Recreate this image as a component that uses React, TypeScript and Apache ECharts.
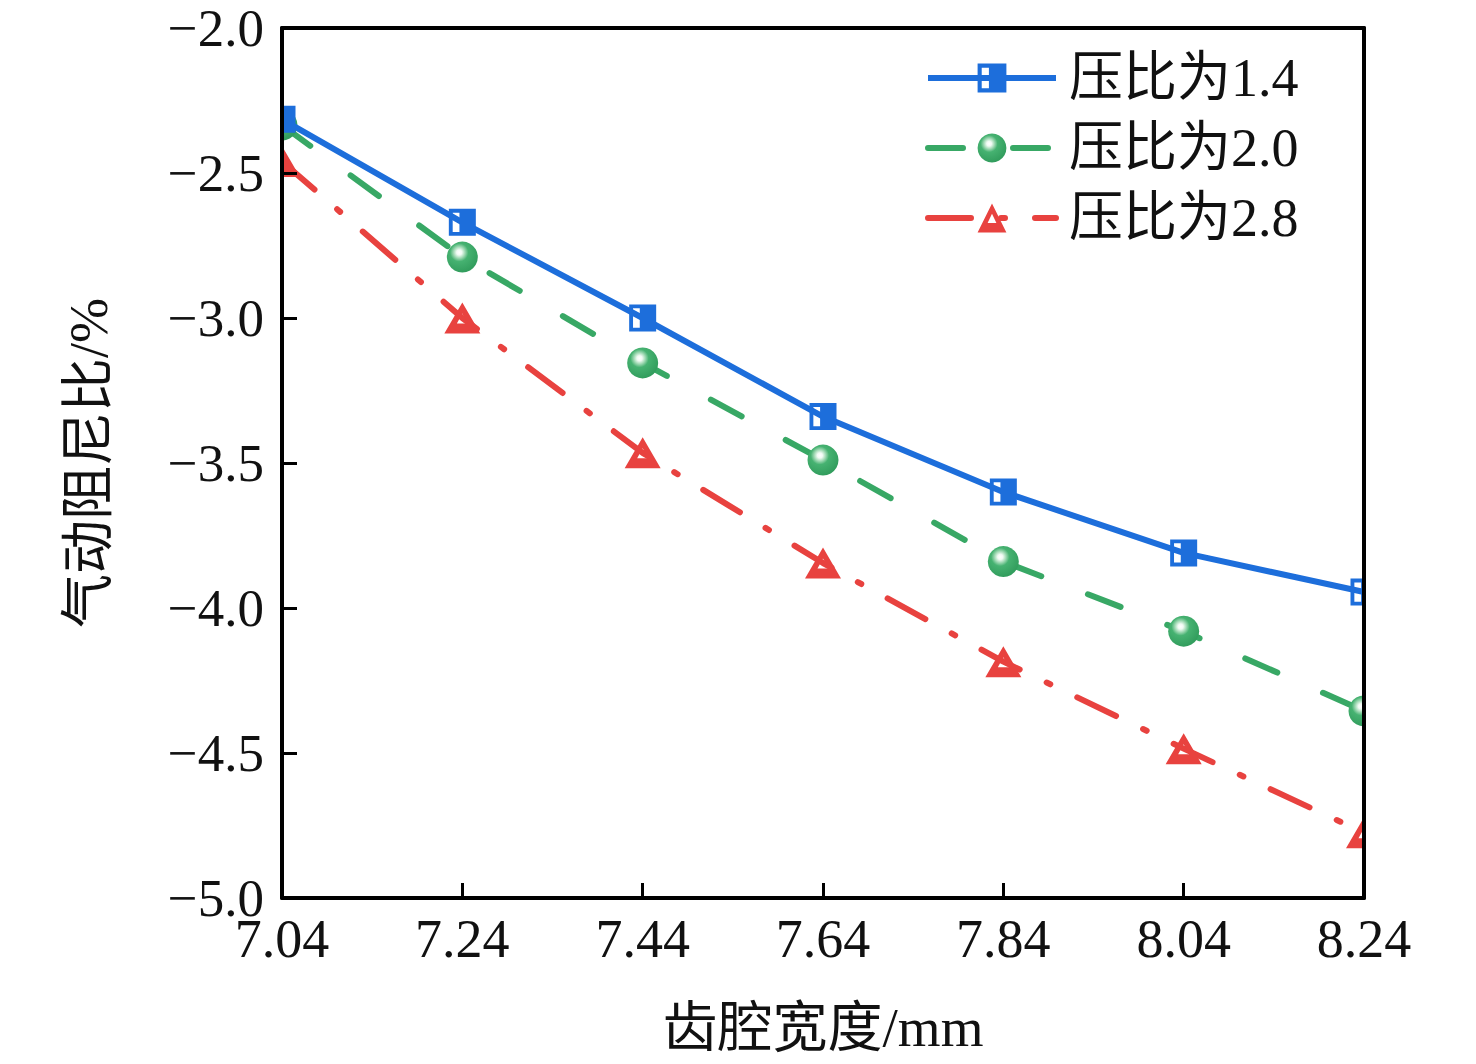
import React, { useEffect, useRef } from "react";
import * as echarts from "echarts";

const categories = ["7.04", "7.24", "7.44", "7.64", "7.84", "8.04", "8.24"];
const seriesNames = ["压比为1.4", "压比为2.0", "压比为2.8"];
const values14 = [-2.315, -2.67, -3.0, -3.34, -3.6, -3.81, -3.945];
const values20 = [-2.335, -2.79, -3.155, -3.49, -3.84, -4.08, -4.355];
const values28 = [-2.46, -3.0, -3.465, -3.845, -4.185, -4.485, -4.775];
const yMin = -5;
const yMax = -2;
const yInterval = 0.5;
const xName = "齿腔宽度/mm";
const yName = "气动阻尼比/%";

const FF = '"Liberation Serif", "Times New Roman", "Noto Sans CJK SC", serif';
const BLUE = "#1d6edb";
const GREEN = "#38a865";
const RED = "#e8423f";

const squareSym = "path://M0 0H28V28H0Z M4 4V24H11V4Z";
const triSym = "path://M18 0L36 31L0 31Z M18 11L12.5 21L23.5 21Z";

const GL = 282, GT = 28, GR = 1364, GB = 898;

export default function App() {
  const ref = useRef<HTMLDivElement>(null);
  useEffect(() => {
    if (!ref.current) return;
    const chart = echarts.init(ref.current, undefined, { renderer: "svg" });
    const greenGrad = {
      type: "radial",
      x: 0.4,
      y: 0.35,
      r: 0.7,
      colorStops: [
        { offset: 0, color: "#ffffff" },
        { offset: 0.12, color: "#f0faf3" },
        { offset: 0.25, color: "#a7dcb9" },
        { offset: 0.42, color: "#46b271" },
        { offset: 1, color: "#2f9a5a" },
      ],
    };
    const axisLine = { show: true, lineStyle: { color: "#000", width: 4 } };
    const option: any = {
      animation: false,
      backgroundColor: "#fff",
      grid: { left: GL, top: GT, width: GR - GL, height: GB - GT, show: false, containLabel: false },
      legend: {
        orient: "vertical",
        left: 920,
        top: 46,
        itemWidth: 128,
        itemHeight: 36,
        itemGap: 16,
        data: seriesNames,
        lineStyle: { width: 6 },
        textStyle: { fontFamily: FF, fontSize: 54, color: "#111", padding: [0, 0, 0, 8] },
      },
      xAxis: [
        {
          type: "category",
          data: categories,
          boundaryGap: false,
          z: 10,
          name: xName,
          nameLocation: "middle",
          nameGap: 102,
          nameTextStyle: { fontFamily: FF, fontSize: 55, color: "#111" },
          axisLine,
          axisTick: { show: true, inside: true, length: 15, lineStyle: { color: "#000", width: 3 } },
          axisLabel: { fontFamily: FF, fontSize: 54, color: "#111", margin: 14, interval: 0 },
          splitLine: { show: false },
        },
        {
          type: "category",
          data: categories,
          boundaryGap: false,
          position: "top",
          z: 10,
          axisLine,
          axisTick: { show: false },
          axisLabel: { show: false },
          splitLine: { show: false },
        },
      ],
      yAxis: [
        {
          type: "value",
          min: yMin,
          max: yMax,
          interval: yInterval,
          z: 10,
          name: yName,
          nameLocation: "middle",
          nameGap: 166,
          nameTextStyle: { fontFamily: FF, fontSize: 54, color: "#111" },
          axisLine,
          axisTick: { show: true, inside: true, length: 15, lineStyle: { color: "#000", width: 3 } },
          axisLabel: {
            fontFamily: FF,
            fontSize: 53,
            lineHeight: 48,
            color: "#111",
            margin: 18,
            formatter: (v: number) => v.toFixed(1).replace("-", "\u2212"),
          },
          splitLine: { show: false },
        },
        {
          type: "value",
          min: yMin,
          max: yMax,
          interval: yInterval,
          position: "right",
          z: 10,
          axisLine,
          axisTick: { show: false },
          axisLabel: { show: false },
          splitLine: { show: false },
        },
      ],
      graphic: [
        { type: "rect", z: 5, shape: { x: GR + 1, y: 0, width: 50, height: 905 }, style: { fill: "#fff" } },
        { type: "rect", z: 5, shape: { x: GL - 40, y: GT, width: 39, height: GB - GT }, style: { fill: "#fff" } },
        { type: "rect", z: 5, shape: { x: GL, y: 0, width: GR - GL, height: GT - 1 }, style: { fill: "#fff" } },
        { type: "rect", z: 5, shape: { x: GL - 40, y: GB + 1, width: GR - GL + 90, height: 20 }, style: { fill: "#fff" } },
      ],
      series: [
        {
          name: seriesNames[0],
          type: "line",
          data: values14,
          xAxisIndex: 0,
          yAxisIndex: 0,
          z: 3,
          symbol: squareSym,
          symbolSize: 27,
          clip: false,
          lineStyle: { color: BLUE, width: 6 },
          itemStyle: { color: BLUE },
        },
        {
          name: seriesNames[1],
          type: "line",
          data: values20,
          xAxisIndex: 0,
          yAxisIndex: 0,
          z: 2,
          symbol: "circle",
          symbolSize: 31,
          clip: false,
          lineStyle: { color: GREEN, width: 6, type: [35, 50], cap: "round" },
          itemStyle: { color: greenGrad },
        },
        {
          name: seriesNames[2],
          type: "line",
          data: values28,
          xAxisIndex: 0,
          yAxisIndex: 0,
          z: 2,
          symbol: triSym,
          symbolSize: [36, 31],
          clip: false,
          lineStyle: { color: RED, width: 6, type: [43, 30, 4, 30], cap: "round" },
          itemStyle: { color: RED },
        },
      ],
    };
    chart.setOption(option);
    return () => chart.dispose();
  }, []);
  return (
    <div
      ref={ref}
      style={{ position: "absolute", left: 0, top: 0, width: 1476, height: 1064, background: "#fff" }}
    />
  );
}
